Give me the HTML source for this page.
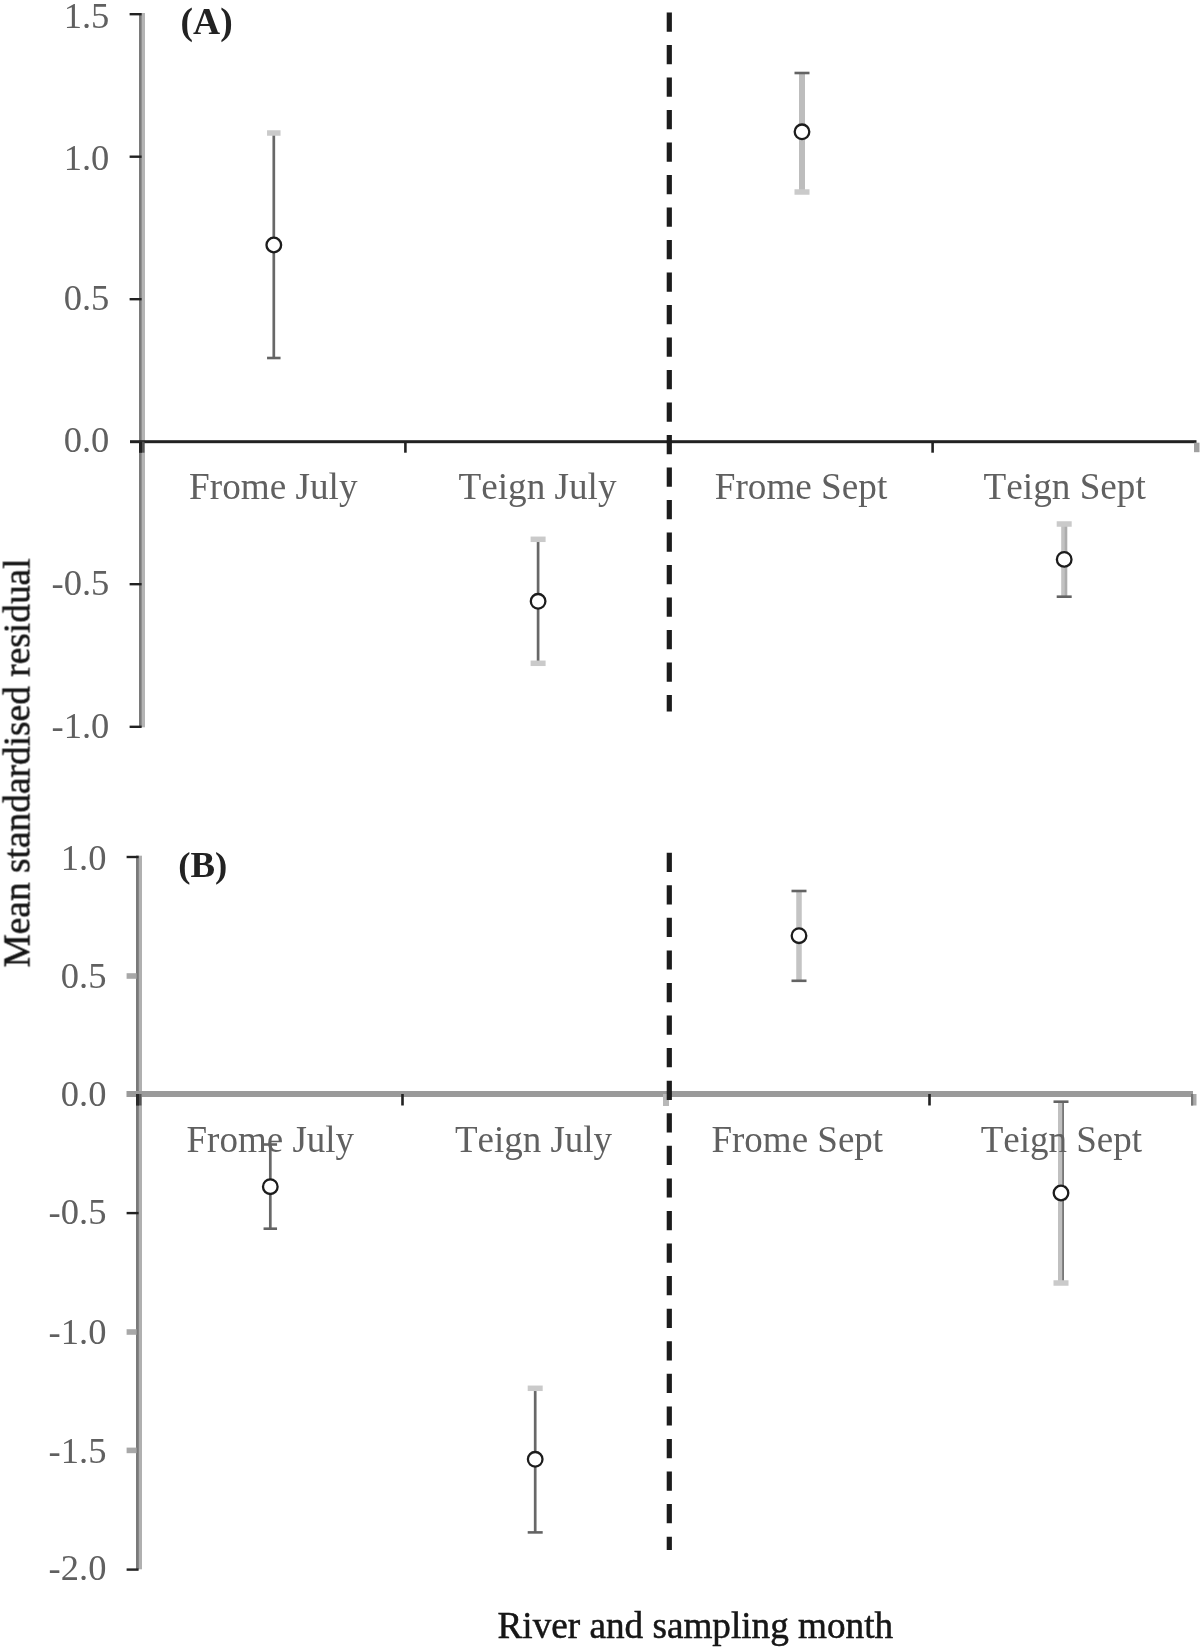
<!DOCTYPE html><html><head><meta charset="utf-8"><title>Figure</title>
<style>html,body{margin:0;padding:0;background:#fff}svg{display:block;font-family:"Liberation Serif",serif;font-kerning:none}</style></head><body>
<svg width="1200" height="1649" viewBox="0 0 1200 1649">
<defs><filter id="soft" x="0" y="0" width="1200" height="1649" filterUnits="userSpaceOnUse"><feGaussianBlur stdDeviation="0.55"/></filter></defs>
<rect width="1200" height="1649" fill="#fff"/>
<g filter="url(#soft)">
<rect x="139.00" y="13.00" width="6.00" height="714.30" fill="#b4b4b4"/>
<rect x="139.00" y="13.00" width="2.60" height="714.30" fill="#7a7a7a"/>
<text x="109.3" y="27.5" text-anchor="end" font-size="36.5" fill="#606060">1.5</text>
<text x="109.3" y="170.3" text-anchor="end" font-size="36.5" fill="#606060">1.0</text>
<text x="109.3" y="309.8" text-anchor="end" font-size="36.5" fill="#606060">0.5</text>
<text x="109.3" y="452" text-anchor="end" font-size="36.5" fill="#606060">0.0</text>
<text x="109.3" y="594.7" text-anchor="end" font-size="36.5" fill="#606060">-0.5</text>
<text x="109.3" y="737.5" text-anchor="end" font-size="36.5" fill="#606060">-1.0</text>
<rect x="130.00" y="440.20" width="1066.50" height="3.00" fill="#222"/>
<rect x="139.00" y="441.70" width="5.50" height="11.00" fill="#555"/>
<rect x="139.00" y="441.70" width="3.00" height="11.00" fill="#222"/>
<rect x="404.10" y="441.70" width="2.60" height="11.00" fill="#222"/>
<rect x="667.20" y="441.70" width="2.60" height="11.00" fill="#222"/>
<rect x="931.30" y="441.70" width="2.60" height="11.00" fill="#222"/>
<rect x="1194.00" y="442.70" width="5.50" height="9.50" fill="#a0a0a0"/>
<line x1="669.3" y1="12.5" x2="669.3" y2="711.5" stroke="#1c1c1c" stroke-width="5.2" stroke-dasharray="19.2 13.3"/>
<text x="273.3" y="498.6" text-anchor="middle" font-size="37.2" fill="#606060">Frome July</text>
<text x="537.5" y="498.6" text-anchor="middle" font-size="37.2" fill="#606060">Teign July</text>
<text x="801" y="498.6" text-anchor="middle" font-size="37.2" fill="#606060">Frome Sept</text>
<text x="1064.7" y="498.6" text-anchor="middle" font-size="37.2" fill="#606060">Teign Sept</text>
<text x="180.6" y="33.9" font-size="37.5" font-weight="bold" fill="#222">(A)</text>
<rect x="272.45" y="133.00" width="2.70" height="225.00" fill="#686868"/>
<rect x="267.05" y="130.25" width="13.50" height="5.50" fill="#cacaca"/>
<rect x="267.05" y="356.70" width="13.50" height="2.60" fill="#646464"/>
<rect x="536.75" y="539.30" width="2.70" height="124.00" fill="#686868"/>
<rect x="530.60" y="536.55" width="15.00" height="5.50" fill="#cacaca"/>
<rect x="530.60" y="660.55" width="15.00" height="5.50" fill="#cacaca"/>
<rect x="799.00" y="73.00" width="6.00" height="119.00" fill="#bdbdbd"/>
<rect x="794.50" y="71.70" width="15.00" height="2.60" fill="#646464"/>
<rect x="794.50" y="189.25" width="15.00" height="5.50" fill="#cacaca"/>
<rect x="1061.20" y="524.00" width="6.00" height="72.70" fill="#c2c2c2"/>
<rect x="1064.70" y="524.00" width="2.50" height="72.70" fill="#adadad"/>
<rect x="1056.70" y="521.25" width="15.00" height="5.50" fill="#cacaca"/>
<rect x="1056.70" y="595.40" width="15.00" height="2.60" fill="#646464"/>
<rect x="136.00" y="855.70" width="6.00" height="713.60" fill="#b0b0b0"/>
<rect x="136.00" y="855.70" width="2.80" height="713.60" fill="#7a7a7a"/>
<rect x="126.50" y="1091.00" width="1066.50" height="6.00" fill="#9a9a9a"/>
<text x="106.4" y="870.4" text-anchor="end" font-size="36.5" fill="#606060">1.0</text>
<rect x="126.60" y="973.20" width="10.00" height="5.60" fill="#a8a8a8"/>
<text x="106.4" y="988" text-anchor="end" font-size="36.5" fill="#606060">0.5</text>
<text x="106.4" y="1106.2" text-anchor="end" font-size="36.5" fill="#606060">0.0</text>
<text x="106.4" y="1223.8" text-anchor="end" font-size="36.5" fill="#606060">-0.5</text>
<rect x="126.60" y="1329.20" width="10.00" height="5.60" fill="#a8a8a8"/>
<text x="106.4" y="1344.2" text-anchor="end" font-size="36.5" fill="#606060">-1.0</text>
<rect x="126.60" y="1447.60" width="10.00" height="5.60" fill="#a8a8a8"/>
<text x="106.4" y="1462.7" text-anchor="end" font-size="36.5" fill="#606060">-1.5</text>
<text x="106.4" y="1580.2" text-anchor="end" font-size="36.5" fill="#606060">-2.0</text>
<rect x="136.00" y="1094.00" width="5.50" height="11.50" fill="#555"/>
<rect x="136.00" y="1094.00" width="3.00" height="11.50" fill="#2a2a2a"/>
<rect x="401.20" y="1094.00" width="2.60" height="11.50" fill="#222"/>
<rect x="928.20" y="1094.00" width="2.60" height="11.50" fill="#222"/>
<rect x="663.00" y="1094.00" width="6.00" height="12.00" fill="#b8b8b8"/>
<rect x="1191.00" y="1094.00" width="5.50" height="11.50" fill="#aaa"/>
<rect x="1191.00" y="1094.00" width="2.20" height="11.50" fill="#777"/>
<line x1="669.3" y1="852.7" x2="669.3" y2="1550" stroke="#1c1c1c" stroke-width="5.2" stroke-dasharray="19.2 13.37"/>
<text x="178.2" y="876.8" font-size="36.8" font-weight="bold" fill="#222">(B)</text>
<rect x="268.95" y="1144.50" width="2.70" height="84.20" fill="#686868"/>
<rect x="263.55" y="1143.20" width="13.50" height="2.60" fill="#646464"/>
<rect x="263.55" y="1227.40" width="13.50" height="2.60" fill="#646464"/>
<rect x="533.85" y="1388.30" width="2.70" height="144.10" fill="#686868"/>
<rect x="527.70" y="1385.55" width="15.00" height="5.50" fill="#cacaca"/>
<rect x="527.70" y="1531.10" width="15.00" height="2.60" fill="#646464"/>
<rect x="796.25" y="891.00" width="5.50" height="89.80" fill="#c4c4c4"/>
<rect x="791.50" y="889.70" width="15.00" height="2.60" fill="#646464"/>
<rect x="791.50" y="979.50" width="15.00" height="2.60" fill="#646464"/>
<rect x="1058.00" y="1101.70" width="6.00" height="181.30" fill="#c0c0c0"/>
<rect x="1062.20" y="1101.70" width="1.80" height="181.30" fill="#777"/>
<rect x="1053.50" y="1100.40" width="15.00" height="2.60" fill="#646464"/>
<rect x="1053.50" y="1280.25" width="15.00" height="5.50" fill="#cacaca"/>
<text x="270.3" y="1151.6" text-anchor="middle" font-size="37" fill="#606060">Frome July</text>
<text x="533.5" y="1151.6" text-anchor="middle" font-size="37" fill="#606060">Teign July</text>
<text x="797.3" y="1151.6" text-anchor="middle" font-size="37" fill="#606060">Frome Sept</text>
<text x="1061.3" y="1151.6" text-anchor="middle" font-size="37" fill="#606060">Teign Sept</text>
<circle cx="273.8" cy="245" r="7.3" fill="#fff" stroke="#1c1c1c" stroke-width="2.3"/>
<circle cx="538.1" cy="601.3" r="7.3" fill="#fff" stroke="#1c1c1c" stroke-width="2.3"/>
<circle cx="802" cy="131.8" r="7.3" fill="#fff" stroke="#1c1c1c" stroke-width="2.3"/>
<circle cx="1064.2" cy="559.4" r="7.3" fill="#fff" stroke="#1c1c1c" stroke-width="2.3"/>
<circle cx="270.3" cy="1186.7" r="7.3" fill="#fff" stroke="#1c1c1c" stroke-width="2.3"/>
<circle cx="535.2" cy="1459.3" r="7.3" fill="#fff" stroke="#1c1c1c" stroke-width="2.3"/>
<circle cx="799" cy="935.7" r="7.3" fill="#fff" stroke="#1c1c1c" stroke-width="2.3"/>
<circle cx="1061" cy="1193" r="7.3" fill="#fff" stroke="#1c1c1c" stroke-width="2.3"/>
<rect x="129.60" y="13.00" width="12.00" height="2.40" fill="#222"/>
<rect x="129.60" y="155.50" width="12.00" height="2.40" fill="#222"/>
<rect x="129.60" y="298.00" width="12.00" height="2.40" fill="#222"/>
<rect x="129.60" y="583.00" width="12.00" height="2.40" fill="#222"/>
<rect x="129.60" y="725.60" width="12.00" height="2.40" fill="#222"/>
<rect x="126.60" y="855.80" width="12.00" height="2.40" fill="#222"/>
<rect x="126.60" y="1211.90" width="12.00" height="2.40" fill="#222"/>
<rect x="126.60" y="1568.40" width="12.00" height="2.40" fill="#222"/>
<text transform="translate(29.5,967.5) rotate(-90)" font-size="37.4" fill="#141414" stroke="#141414" stroke-width="0.5">Mean standardised residual</text>
<text x="695.3" y="1637.6" text-anchor="middle" font-size="37.2" fill="#141414" stroke="#141414" stroke-width="0.5">River and sampling month</text>
</g></svg></body></html>
